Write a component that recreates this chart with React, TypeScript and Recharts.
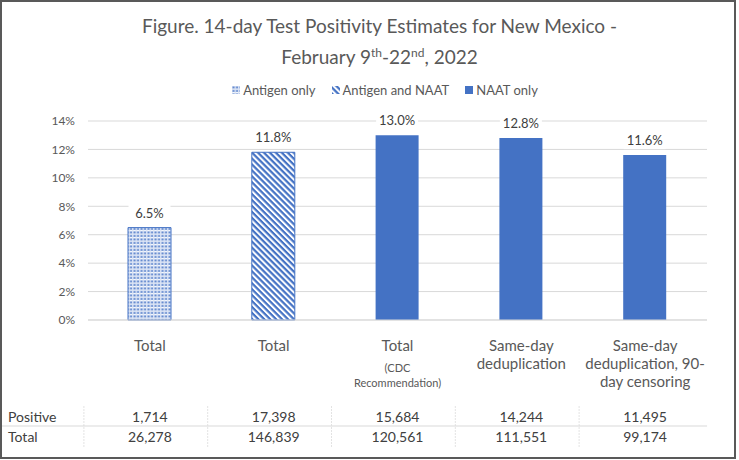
import { BarChart, Bar, XAxis, YAxis, CartesianGrid, Legend, LabelList, Cell } from 'recharts'

const categoryLines = [
  ['Total'],
  ['Total'],
  ['Total'],
  ['Same-day', 'deduplication'],
  ['Same-day', 'deduplication, 90-', 'day censoring'],
]
const categoryNotes = [[], [], ['(CDC', 'Recommendation)'], [], []]
const testTypes = ['antigen', 'both', 'naat', 'naat', 'naat']
const positivity = [6.5, 11.8, 13.0, 12.8, 11.6]
const positives = [1714, 17398, 15684, 14244, 11495]
const totals = [26278, 146839, 120561, 111551, 99174]
const yTicks = [0, 2, 4, 6, 8, 10, 12, 14]
const seriesKeys = ['antigen', 'both', 'naat']
const seriesNames = ['Antigen only', 'Antigen and NAAT', 'NAAT only']
const rowLabels = ['Positive', 'Total']

const BLUE = '#4472c4'
const FONT = 'Lato, "Liberation Sans", sans-serif'
const BAND = 124

const fills: Record<string, string> = {
  antigen: 'url(#dots)',
  both: 'url(#stripes)',
  naat: BLUE,
}

const data = categoryLines.map((lines, i) => ({
  name: lines.join(' '),
  rate: positivity[i],
  type: testTypes[i],
}))

function RateLabel(props: any) {
  const { x, y, width, value } = props
  const cx = x + width / 2
  const label = `${value.toFixed(1)}%`
  return (
    <g>
      <rect x={cx - 21} y={y - 24} width={42} height={18} fill="#fff" />
      <text x={cx} y={y - 10} textAnchor="middle" fontSize={13} fill="#404040" fontFamily={FONT}>{label}</text>
    </g>
  )
}

function CategoryTick(props: any) {
  const { x, y, payload } = props
  const i = payload.index
  const left = x - BAND / 2 - 4
  const right = i === categoryLines.length - 1 ? x + BAND / 2 : x + BAND / 2 - 4
  return (
    <g fontFamily={FONT}>
      {categoryLines[i].map((line, k) => (
        <text key={k} x={x} y={y + 31 + k * 18} textAnchor="middle" fontSize={15} fill="#595959">{line}</text>
      ))}
      {categoryNotes[i].map((line, k) => (
        <text key={'n' + k} x={x} y={y + 52 + k * 15} textAnchor="middle" fontSize={11} fill="#595959">{line}</text>
      ))}
      <line x1={left} x2={left} y1={y + 86} y2={y + 127} stroke="#e3e3e3" strokeDasharray="2 1" />
      <line x1={i === 0 ? 2 : left} x2={right} y1={y + 106} y2={y + 106} stroke="#d9d9d9" />
      <text x={x} y={y + 102} textAnchor="middle" fontSize={14} fill="#404040">{positives[i].toLocaleString('en-US')}</text>
      <text x={x} y={y + 122} textAnchor="middle" fontSize={14} fill="#404040">{totals[i].toLocaleString('en-US')}</text>
      {i === 0 && rowLabels.map((r, k) => (
        <text key={r} x={8} y={y + 102 + k * 20} fontSize={14} fill="#404040">{r}</text>
      ))}
    </g>
  )
}

function LegendContent() {
  return (
    <div style={{ display: 'flex', justifyContent: 'center', gap: 16, fontFamily: FONT, fontSize: 13, color: '#595959' }}>
      {seriesKeys.map((k, i) => (
        <div key={k} style={{ display: 'flex', alignItems: 'center', gap: 3 }}>
          <svg width={8} height={8}>
            <rect x={0} y={0} width={8} height={8} fill={fills[k]} />
          </svg>
          <span>{seriesNames[i]}</span>
        </div>
      ))}
    </div>
  )
}

export default function App() {
  return (
    <div style={{ position: 'absolute', left: 0, top: 0, width: 739, height: 460, background: '#fff' }}>
      <div style={{ position: 'absolute', left: 0, top: 0, width: 736, height: 459, boxSizing: 'border-box', border: '2px solid #595959' }} />
      <div style={{ position: 'absolute', left: 20, top: 10, width: 719, textAlign: 'center', fontFamily: FONT, fontSize: 19, lineHeight: '31px', color: '#595959' }}>
        Figure. 14-day Test Positivity Estimates for New Mexico -<br />
        February 9<sup style={{ fontSize: 12, lineHeight: 0 }}>th</sup>-22<sup style={{ fontSize: 12, lineHeight: 0 }}>nd</sup>, 2022
      </div>
      <div style={{ position: 'absolute', left: 0, top: 0 }}>
        <BarChart width={739} height={460} data={data} margin={{ top: 105, right: 32, bottom: 0, left: 0 }}>
          <defs>
            <pattern id="dots" width={3.5} height={3.5} patternUnits="userSpaceOnUse">
              <rect width={3.5} height={3.5} fill="#dbe4f5" />
              <rect x={0.5} y={0.5} width={2} height={2} fill={BLUE} opacity={0.85} />
              <rect x={0.5} y={2.5} width={2} height={1} fill="#fff" />
            </pattern>
            <pattern id="stripes" width={4.2} height={4.2} patternUnits="userSpaceOnUse" patternTransform="rotate(45)">
              <rect width={4.2} height={4.2} fill="#fff" />
              <rect width={4.2} height={2.2} fill={BLUE} />
            </pattern>
          </defs>
          <CartesianGrid vertical={false} stroke="#d9d9d9" />
          <XAxis dataKey="name" interval={0} tick={<CategoryTick />} tickLine={false} tickSize={0} tickMargin={0} axisLine={{ stroke: '#d9d9d9' }} height={140} />
          <YAxis domain={[0, 14]} ticks={yTicks} tickFormatter={(v: number) => `${v}%`} tickLine={false} axisLine={false} tickSize={0} tickMargin={13} width={88} tick={{ fill: '#595959', fontSize: 12, fontFamily: FONT }} />
          <Legend verticalAlign="top" content={<LegendContent />} wrapperStyle={{ top: 82, left: 30, width: 710 }} />
          <Bar dataKey="rate" barSize={43} isAnimationActive={false}>
            {data.map((d, i) => (
              <Cell key={i} fill={fills[d.type]} stroke={d.type === 'naat' ? 'none' : BLUE} strokeWidth={1} />
            ))}
            <LabelList dataKey="rate" content={<RateLabel />} />
          </Bar>
        </BarChart>
      </div>
    </div>
  )
}
